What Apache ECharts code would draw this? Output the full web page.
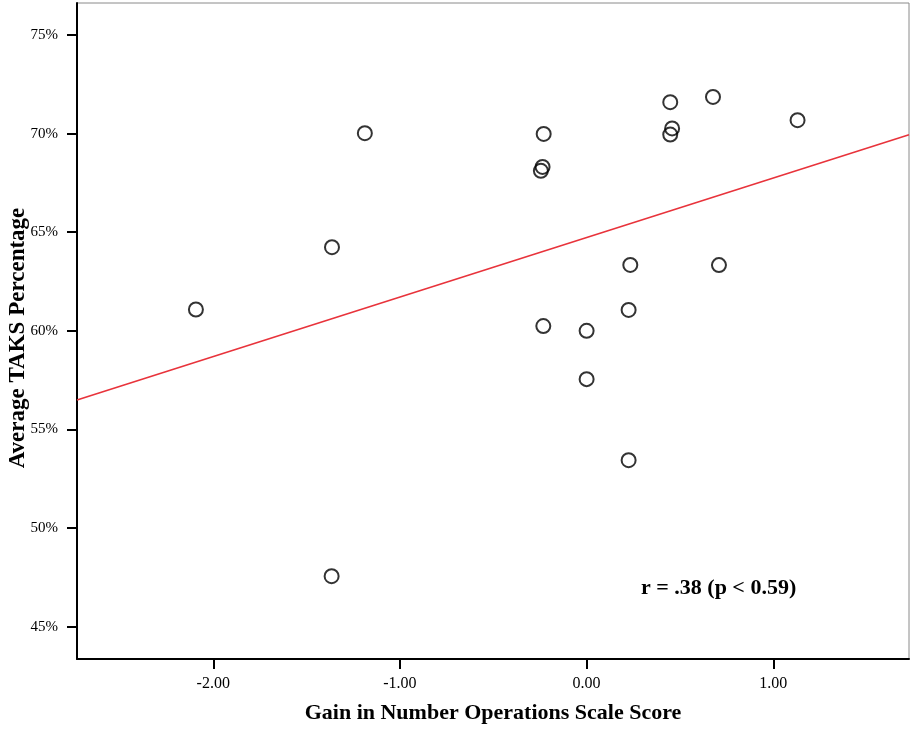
<!DOCTYPE html>
<html>
<head>
<meta charset="utf-8">
<script src="https://cdn.jsdelivr.net/npm/echarts@6/dist/echarts.min.js"></script>
<style>html,body{margin:0;padding:0;background:#fff;}#c{width:916px;height:732px;}</style>
</head>
<body>
<div id="c"></div>
<script>
// Gain in Number Operations Scale Score
const gainX = [-2.093, -1.364, -1.366, -1.188, -0.230, -0.236, -0.245, -0.232, 0.000, 0.000, 0.234, 0.225, 0.225, 0.448, 0.458, 0.448, 0.677, 0.709, 1.130];
// Average TAKS Percentage (%)
const taksY = [61.08, 64.24, 47.56, 70.02, 69.98, 68.31, 68.11, 60.24, 60.00, 57.55, 63.34, 61.06, 53.44, 71.59, 70.26, 69.95, 71.86, 63.33, 70.68];
const xTicks = [-2, -1, 0, 1];
const yTicks = [45, 50, 55, 60, 65, 70, 75];
const xRange = [-2.73, 1.727];
const yRange = [43.36, 76.62];
const xTitle = 'Gain in Number Operations Scale Score';
const yTitle = 'Average TAKS Percentage';
const annotation = 'r = .38 (p < 0.59)';

// least squares fit line
const n = gainX.length;
const mx = gainX.reduce((a, b) => a + b, 0) / n;
const my = taksY.reduce((a, b) => a + b, 0) / n;
let sxy = 0, sxx = 0;
for (let i = 0; i < n; i++) { sxy += (gainX[i] - mx) * (taksY[i] - my); sxx += (gainX[i] - mx) ** 2; }
const slope = sxy / sxx, icpt = my - slope * mx;
const fitLine = xRange.map(x => [x, icpt + slope * x]);

const font = 'Liberation Serif';
const chart = echarts.init(document.getElementById('c'));
chart.setOption({
  animation: false,
  backgroundColor: '#fff',
  grid: { left: 77, right: 7, top: 3, bottom: 73, containLabel: false, outerBoundsMode: 'none', show: true, borderColor: '#8a8a8a', borderWidth: 1 },
  xAxis: {
    type: 'value', min: xRange[0], max: xRange[1],
    splitLine: { show: false },
    axisLine: { show: true, onZero: false, lineStyle: { color: '#000', width: 2 } },
    axisTick: { show: true, length: 10, customValues: xTicks, lineStyle: { color: '#000', width: 2 } },
    axisLabel: { customValues: xTicks, margin: 17, color: '#000', fontFamily: font, fontSize: 16, formatter: v => v.toFixed(2) },
    name: xTitle, nameLocation: 'middle', nameGap: 43,
    nameTextStyle: { fontFamily: font, fontWeight: 'bold', fontSize: 22, color: '#000' }
  },
  yAxis: {
    type: 'value', min: yRange[0], max: yRange[1],
    splitLine: { show: false },
    axisLine: { show: true, onZero: false, lineStyle: { color: '#000', width: 2 } },
    axisTick: { show: true, length: 10, customValues: yTicks, lineStyle: { color: '#000', width: 2 } },
    axisLabel: { customValues: yTicks, margin: 19, color: '#000', fontFamily: font, fontSize: 15, formatter: v => Math.round(v) + '%' }
  },
  graphic: [
    {
      type: 'text', x: 18, y: 338, rotation: Math.PI / 2,
      style: { text: yTitle, fontFamily: font, fontWeight: 'bold', fontSize: 23, fill: '#000', align: 'center', verticalAlign: 'middle' }
    },
    {
      type: 'text', left: 641, top: 577,
      style: { text: annotation, fontFamily: font, fontWeight: 'bold', fontSize: 22, fill: '#000' }
    }
  ],
  series: [
    {
      type: 'line', data: fitLine, symbol: 'none', silent: true,
      lineStyle: { color: '#e8333b', width: 1.6 }, z: 1
    },
    {
      type: 'scatter', data: gainX.map((x, i) => [x, taksY[i]]),
      symbol: 'circle', symbolSize: 14,
      itemStyle: { color: 'rgba(255,255,255,0)', borderColor: '#000', borderWidth: 2 }, z: 2
    }
  ]
});
</script>
</body>
</html>
